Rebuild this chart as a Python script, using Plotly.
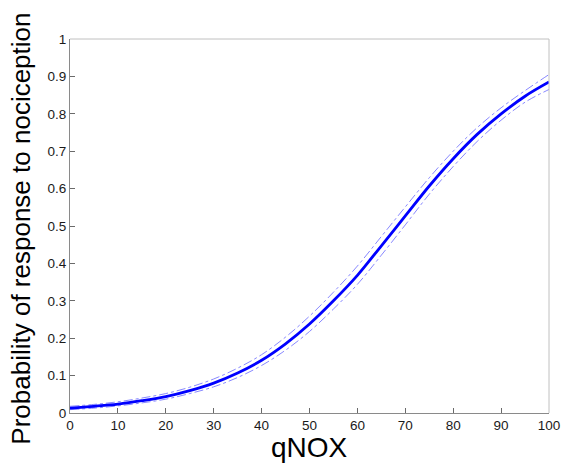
import plotly.graph_objects as go

# Data
qnox = [0, 5, 10, 15, 20, 25, 30, 35, 40, 45, 50, 55, 60, 65, 70, 75, 80, 85, 90, 95, 100]
prob = [0.013, 0.018, 0.024, 0.033, 0.044, 0.060, 0.080, 0.107, 0.141, 0.185, 0.238,
        0.300, 0.368, 0.447, 0.527, 0.607, 0.680, 0.745, 0.800, 0.847, 0.885]
upper = [0.018, 0.023, 0.030, 0.040, 0.052, 0.069, 0.091, 0.120, 0.156, 0.203, 0.259,
         0.323, 0.393, 0.472, 0.551, 0.629, 0.700, 0.763, 0.816, 0.862, 0.905]
lower = [0.009, 0.013, 0.019, 0.027, 0.037, 0.052, 0.070, 0.095, 0.127, 0.168, 0.218,
         0.278, 0.344, 0.422, 0.503, 0.585, 0.659, 0.726, 0.783, 0.831, 0.865]

xticks = [0, 10, 20, 30, 40, 50, 60, 70, 80, 90, 100]
yticks = [0, 0.1, 0.2, 0.3, 0.4, 0.5, 0.6, 0.7, 0.8, 0.9, 1]
ytick_text = ["0", "0.1", "0.2", "0.3", "0.4", "0.5", "0.6", "0.7", "0.8", "0.9", "1"]

FONT = "Liberation Sans, Arial, sans-serif"
fig = go.Figure()
for b in (upper, lower):
    fig.add_trace(go.Scatter(x=qnox, y=b, mode="lines", line_shape="spline",
                             line=dict(color="#7a7aff", width=0.9, dash="dashdot"),
                             showlegend=False, hoverinfo="skip"))
fig.add_trace(go.Scatter(x=qnox, y=prob, mode="lines", line_shape="spline",
                         line=dict(color="#0000ff", width=2.8), showlegend=False))

axis_common = dict(showgrid=False, zeroline=False, showline=True, linecolor="#8a8a8a",
                   linewidth=1, ticks="inside", ticklen=5, tickcolor="#6a6a6a",
                   tickfont=dict(family=FONT, size=13.5, color="#1a1a1a"), mirror=False,
                   automargin=False, ticklabeloverflow="allow")
fig.update_layout(
    width=564, height=465,
    margin=dict(l=70, r=15, t=39, b=52),
    paper_bgcolor="white", plot_bgcolor="white",
    xaxis=dict(range=[0, 100], tickvals=xticks, ticktext=[str(v) for v in xticks], **axis_common),
    yaxis=dict(range=[0, 1], tickvals=yticks, ticktext=ytick_text, **axis_common),
    shapes=[
        dict(type="line", xref="paper", yref="paper", x0=0, x1=1, y0=1, y1=1,
             line=dict(color="#c0c0c0", width=1)),
        dict(type="line", xref="paper", yref="paper", x0=1, x1=1, y0=0, y1=1,
             line=dict(color="#c0c0c0", width=1)),
    ],
    annotations=[
        dict(text="qNOX", xref="paper", yref="paper", x=0.5, y=-0.046, yanchor="top",
             showarrow=False, font=dict(family=FONT, size=28, color="black")),
        dict(text="Probability of response to nociception", xref="paper", yref="paper",
             x=-0.103, xanchor="center", y=0.492, yanchor="middle", textangle=-90,
             showarrow=False, font=dict(family=FONT, size=26, color="black")),
    ],
)
fig.write_html("out.html", config={"displayModeBar": False},
               post_script="document.body.style.margin='0';document.body.style.overflow='hidden';")
